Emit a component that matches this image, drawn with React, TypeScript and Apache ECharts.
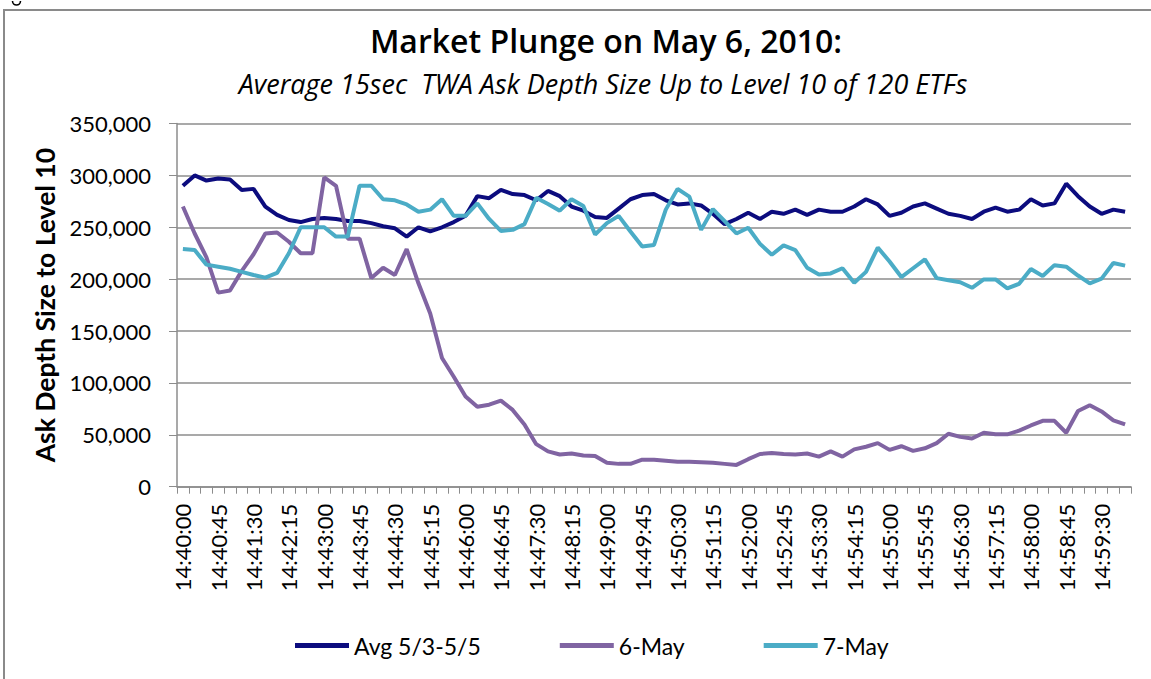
import React, { useEffect, useRef } from "react";
import * as echarts from "echarts";

const times: string[] = [
  "14:40:00","14:40:15","14:40:30","14:40:45","14:41:00","14:41:15","14:41:30","14:41:45",
  "14:42:00","14:42:15","14:42:30","14:42:45","14:43:00","14:43:15","14:43:30","14:43:45",
  "14:44:00","14:44:15","14:44:30","14:44:45","14:45:00","14:45:15","14:45:30","14:45:45",
  "14:46:00","14:46:15","14:46:30","14:46:45","14:47:00","14:47:15","14:47:30","14:47:45",
  "14:48:00","14:48:15","14:48:30","14:48:45","14:49:00","14:49:15","14:49:30","14:49:45",
  "14:50:00","14:50:15","14:50:30","14:50:45","14:51:00","14:51:15","14:51:30","14:51:45",
  "14:52:00","14:52:15","14:52:30","14:52:45","14:53:00","14:53:15","14:53:30","14:53:45",
  "14:54:00","14:54:15","14:54:30","14:54:45","14:55:00","14:55:15","14:55:30","14:55:45",
  "14:56:00","14:56:15","14:56:30","14:56:45","14:57:00","14:57:15","14:57:30","14:57:45",
  "14:58:00","14:58:15","14:58:30","14:58:45","14:59:00","14:59:15","14:59:30","14:59:45",
  "15:00:00",
];

const avgMay3to5: number[] = [
  290000, 300000, 295000, 297000, 296000, 286000, 287000, 270000, 262000, 257000,
  255000, 258000, 259000, 258000, 256000, 256000, 254000, 251000, 249000, 241000,
  250000, 246000, 250000, 255000, 261000, 280000, 278000, 286000, 282000, 281000,
  276000, 285000, 280000, 270000, 266000, 260000, 259000, 268000, 277000, 281000,
  282000, 276000, 272000, 273000, 271000, 263000, 253000, 258000, 264000, 258000,
  265000, 263000, 267000, 262000, 267000, 265000, 265000, 270000, 277000, 272000,
  261000, 264000, 270000, 273000, 268000, 263000, 261000, 258000, 265000, 269000,
  265000, 267000, 277000, 271000, 273000, 292000, 280000, 270000, 263000, 267000,
  265000,
];

const may6: number[] = [
  270000, 244000, 221000, 187000, 189000, 208000, 224000, 244000, 245000, 236000,
  225000, 225000, 298000, 290000, 239000, 239000, 201000, 211000, 204000, 229000,
  196000, 167000, 124000, 106000, 87000, 77000, 79000, 83000, 74000, 60000,
  41000, 34000, 31000, 32000, 30000, 29500, 23000, 22000, 22000, 26000,
  26000, 25000, 24000, 24000, 23500, 23000, 22000, 21000, 26500, 31500,
  32500, 31500, 31000, 32000, 29000, 34000, 29000, 36000, 38500, 42000,
  35500, 39000, 34500, 37000, 42000, 51000, 48000, 46500, 52000, 50500,
  50500, 54000, 59000, 63500, 63500, 52000, 73000, 78500, 72500, 64000,
  60000,
];

const may7: number[] = [
  229000, 228000, 214000, 212000, 210000, 207000, 204000, 201500, 206000, 225000,
  250000, 250000, 250000, 241000, 241000, 290000, 290000, 277000, 276000, 272000,
  265000, 267000, 277000, 261000, 261000, 273000, 258000, 246500, 247500, 253000,
  278500, 272500, 266000, 277000, 270500, 243000, 254000, 261000, 246000, 231500,
  233000, 267000, 287000, 279500, 247500, 267500, 256000, 244000, 249500, 234000,
  223500, 232500, 228000, 211000, 204500, 205500, 210500, 196500, 207000, 230500,
  217000, 202000, 210500, 219000, 201000, 199000, 197000, 191700, 199700, 199700,
  191200, 195500, 209700, 203000, 213500, 212000, 203500, 196000, 200500, 215500,
  213000,
];

const seriesNames = ["Avg 5/3-5/5", "6-May", "7-May"];
const seriesColors = ["#0c0c7e", "#8064a2", "#4bacc6"];

const FONT = "Lato, 'Open Sans', sans-serif";
const HEAD_FONT = "'Open Sans', Lato, sans-serif";

export default function App() {
  const ref = useRef<HTMLDivElement>(null);
  useEffect(() => {
    if (!ref.current) return;
    const chart = echarts.init(ref.current, undefined, { renderer: "svg" });
    const dataSets = [avgMay3to5, may6, may7];
    chart.setOption({
      animation: false,
      backgroundColor: "#ffffff",
      textStyle: { fontFamily: FONT },
      graphic: [
        {
          type: "rect",
          shape: { x: 4, y: 10, width: 1300, height: 800 },
          style: { fill: "none", stroke: "#8a8a8a", lineWidth: 2 },
          silent: true,
        },
        {
          type: "arc",
          shape: { cx: 16.5, cy: 1, r: 4, startAngle: 0, endAngle: Math.PI, clockwise: true },
          style: { fill: "none", stroke: "#000", lineWidth: 1.6 },
          silent: true,
        },
        {
          type: "text",
          x: 606,
          y: 24,
          style: {
            text: "Market Plunge on May 6, 2010:",
            font: `600 32px ${HEAD_FONT}`,
            fill: "#000",
            textAlign: "center",
            textVerticalAlign: "top",
          },
        },
        {
          type: "text",
          x: 603,
          y: 70,
          style: {
            text: "Average 15sec  TWA Ask Depth Size Up to Level 10 of 120 ETFs",
            font: `italic 27px ${HEAD_FONT}`,
            fill: "#000",
            textAlign: "center",
            textVerticalAlign: "top",
          },
        },
      ],
      grid: {
        left: 177,
        right: 20,
        top: 123.5,
        bottom: 192.3,
        containLabel: false,
        outerBoundsMode: "none",
      },
      legend: {
        left: 290,
        top: 629,
        itemGap: 79,
        itemWidth: 54,
        itemHeight: 5,
        icon: "rect",
        textStyle: { fontSize: 23, color: "#000", fontFamily: FONT },
        data: seriesNames,
      },
      xAxis: {
        type: "category",
        data: times,
        boundaryGap: true,
        axisLine: { lineStyle: { color: "#8c8c8c", width: 1.5 } },
        axisTick: { show: true, interval: 0, length: 7, lineStyle: { color: "#8c8c8c" } },
        axisLabel: {
          interval: 2,
          rotate: 90,
          margin: 17,
          fontSize: 22,
          color: "#000",
          fontFamily: FONT,
        },
        splitLine: { show: false },
      },
      yAxis: {
        type: "value",
        min: 0,
        max: 350000,
        interval: 50000,
        name: "Ask Depth Size to Level 10",
        nameLocation: "middle",
        nameGap: 118,
        nameRotate: 90,
        nameTextStyle: { fontSize: 26.5, fontWeight: "bold", color: "#000", fontFamily: FONT },
        axisLine: { show: true, lineStyle: { color: "#8c8c8c", width: 1.5 } },
        axisTick: { show: true, length: 8, lineStyle: { color: "#8c8c8c" } },
        axisLabel: {
          margin: 26,
          fontSize: 22,
          color: "#000",
          fontFamily: FONT,
          formatter: (v: number) => v.toLocaleString("en-US"),
        },
        splitLine: { show: true, lineStyle: { color: "#8c8c8c", width: 1.5 } },
      },
      series: seriesNames.map((name, k) => ({
        name,
        type: "line",
        data: dataSets[k],
        symbol: "none",
        smooth: false,
        color: seriesColors[k],
        lineStyle: { width: 4, color: seriesColors[k] },
      })),
    });
    return () => chart.dispose();
  }, []);
  return (
    <div
      ref={ref}
      style={{ position: "fixed", left: 0, top: 0, width: 1151, height: 679 }}
    />
  );
}
